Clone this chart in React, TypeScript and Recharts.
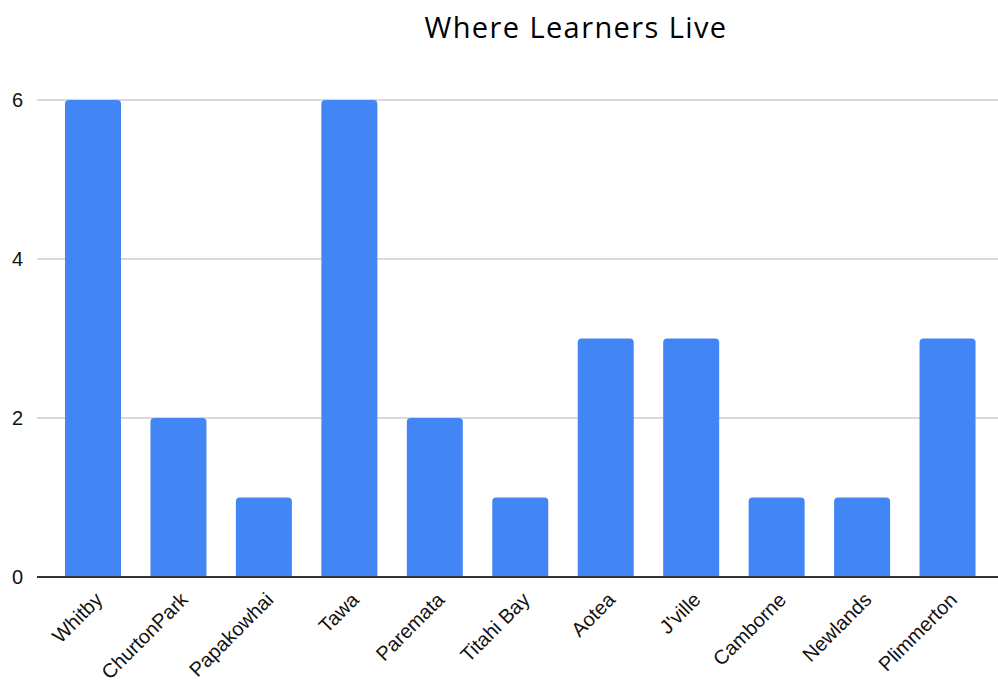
import React from "react";
import { BarChart, Bar, XAxis, YAxis, CartesianGrid } from "recharts";

const suburbs = [
  "Whitby",
  "ChurtonPark",
  "Papakowhai",
  "Tawa",
  "Paremata",
  "Titahi Bay",
  "Aotea",
  "J'ville",
  "Camborne",
  "Newlands",
  "Plimmerton",
];
const learnerCounts = [6, 2, 1, 6, 2, 1, 3, 3, 1, 1, 3];
const yTicks = [0, 2, 4, 6];

const data = suburbs.map((name, i) => ({ name, count: learnerCounts[i] }));

const SlantedTick = (props: any) => {
  const { x, y, payload } = props;
  const ax = x + 11;
  const ay = y + 16;
  return (
    <text
      x={ax}
      y={ay}
      transform={`rotate(-45, ${ax}, ${ay})`}
      textAnchor="end"
      fontFamily="'Liberation Sans', Arial, sans-serif"
      fontSize={20}
      fill="#111"
    >
      {payload.value}
    </text>
  );
};

export default function App() {
  return (
    <div style={{ position: "absolute", left: 0, top: 0, background: "#fff" }}>
      <svg width={998} height={681} style={{ position: "absolute", left: 0, top: 0 }}>
        <text
          x={576}
          y={38}
          textAnchor="middle"
          fontFamily="'Open Sans', sans-serif"
          fontSize={29}
          letterSpacing={1.4}
          fill="#000"
        >
          Where Learners Live
        </text>
      </svg>
      <BarChart
        width={998}
        height={681}
        data={data}
        margin={{ top: 100, right: 0, bottom: 0, left: 0 }}
        barSize={56}
      >
        <CartesianGrid vertical={false} stroke="#cccccc" strokeWidth={1.5} />
        <XAxis
          dataKey="name"
          interval={0}
          padding={{ left: 13, right: 8 }}
          axisLine={{ stroke: "#333", strokeWidth: 2 }}
          tickLine={false}
          tick={<SlantedTick />}
          height={104}
        />
        <YAxis
          width={37}
          domain={[0, 6]}
          ticks={yTicks}
          axisLine={false}
          tickLine={false}
          tickSize={0}
          tickMargin={14}
          tick={{ fontFamily: "'Liberation Sans', Arial, sans-serif", fontSize: 20, fill: "#111" }}
        />
        <Bar dataKey="count" fill="#4285F4" radius={[4, 4, 0, 0]} isAnimationActive={false} />
      </BarChart>
    </div>
  );
}
